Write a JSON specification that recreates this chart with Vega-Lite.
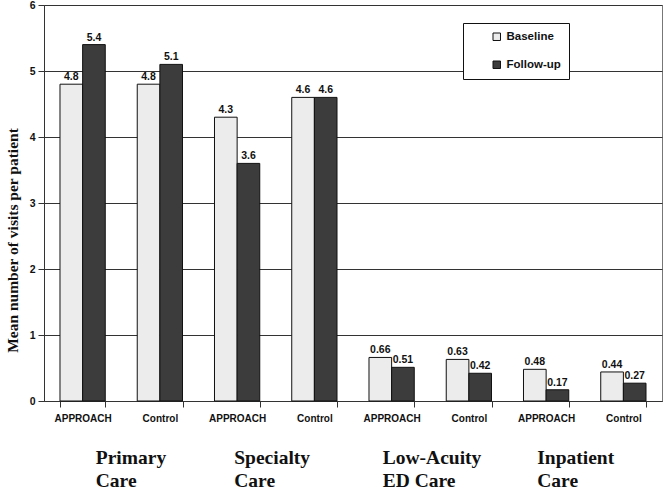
{
  "$schema": "https://vega.github.io/schema/vega-lite/v6.json",
  "width": 618,
  "height": 396,
  "autosize": {"type": "none"},
  "padding": {"left": 44, "top": 5, "right": 4, "bottom": 88},
  "background": "white",
  "config": {
    "view": {"stroke": "#777", "strokeWidth": 1},
    "font": "Liberation Sans"
  },
  "data": {
    "values": [
      {"cat": "Primary Care", "arm": "PC|APPROACH", "series": "Baseline", "value": 4.8},
      {"cat": "Primary Care", "arm": "PC|APPROACH", "series": "Follow-up", "value": 5.4},
      {"cat": "Primary Care", "arm": "PC|Control", "series": "Baseline", "value": 4.8},
      {"cat": "Primary Care", "arm": "PC|Control", "series": "Follow-up", "value": 5.1},
      {"cat": "Specialty Care", "arm": "SC|APPROACH", "series": "Baseline", "value": 4.3},
      {"cat": "Specialty Care", "arm": "SC|APPROACH", "series": "Follow-up", "value": 3.6},
      {"cat": "Specialty Care", "arm": "SC|Control", "series": "Baseline", "value": 4.6},
      {"cat": "Specialty Care", "arm": "SC|Control", "series": "Follow-up", "value": 4.6},
      {"cat": "Low-Acuity ED Care", "arm": "ED|APPROACH", "series": "Baseline", "value": 0.66},
      {"cat": "Low-Acuity ED Care", "arm": "ED|APPROACH", "series": "Follow-up", "value": 0.51},
      {"cat": "Low-Acuity ED Care", "arm": "ED|Control", "series": "Baseline", "value": 0.63},
      {"cat": "Low-Acuity ED Care", "arm": "ED|Control", "series": "Follow-up", "value": 0.42},
      {"cat": "Inpatient Care", "arm": "IP|APPROACH", "series": "Baseline", "value": 0.48},
      {"cat": "Inpatient Care", "arm": "IP|APPROACH", "series": "Follow-up", "value": 0.17},
      {"cat": "Inpatient Care", "arm": "IP|Control", "series": "Baseline", "value": 0.44},
      {"cat": "Inpatient Care", "arm": "IP|Control", "series": "Follow-up", "value": 0.27}
    ]
  },
  "layer": [
    {
      "encoding": {
        "x": {
          "field": "arm", "type": "nominal", "sort": null,
          "scale": {"paddingInner": 0.414, "paddingOuter": 0.207},
          "axis": {
            "title": null,
            "labelExpr": "split(datum.label, '|')[1]",
            "labelAngle": 0,
            "labelFont": "Liberation Sans",
            "labelFontWeight": "bold",
            "labelFontSize": 10,
            "labelColor": "#111",
            "labelPadding": 6,
            "tickBand": "extent",
            "tickSize": 6,
            "tickColor": "#333",
            "domainColor": "#333",
            "grid": false
          }
        },
        "xOffset": {"field": "series", "type": "nominal", "sort": ["Baseline", "Follow-up"], "scale": {"paddingInner": 0, "paddingOuter": 0}},
        "y": {
          "field": "value", "type": "quantitative",
          "scale": {"domain": [0, 6], "nice": false},
          "axis": {
            "title": "Mean number of visits per patient",
            "titleFont": "Liberation Serif",
            "titleFontSize": 15.5,
            "titleFontWeight": "bold",
            "titleColor": "#111",
            "titleX": -32,
            "titleY": 235,
            "titleAngle": 270,
            "titleAlign": "center",
            "titleBaseline": "middle",
            "values": [0, 1, 2, 3, 4, 5, 6],
            "labelOverlap": false,
            "labelFont": "Liberation Sans",
            "labelFontWeight": "bold",
            "labelFontSize": 10.5,
            "labelColor": "#111",
            "labelPadding": 3,
            "tickSize": 6,
            "tickColor": "#333",
            "domainColor": "#333",
            "grid": true,
            "gridColor": "#333",
            "gridOpacity": 1
          }
        }
      },
      "layer": [
        {
          "mark": {"type": "bar", "stroke": "#111", "strokeWidth": 1},
          "encoding": {
            "color": {
              "field": "series", "type": "nominal",
              "scale": {"domain": ["Baseline", "Follow-up"], "range": ["#ececec", "#3c3c3c"]},
              "legend": {
                "title": null,
                "orient": "none",
                "legendX": 419,
                "legendY": 18,
                "direction": "vertical",
                "symbolType": "square",
                "symbolSize": 56,
                "symbolStrokeColor": "#111",
                "symbolStrokeWidth": 1,
                "symbolOffset": 20,
                "labelFont": "Liberation Sans",
                "labelFontWeight": "bold",
                "labelFontSize": 11.5,
                "labelColor": "#111",
                "labelOffset": 4,
                "rowPadding": 15,
                "padding": 8,
                "strokeColor": "#111",
                "fillColor": "white"
              }
            }
          }
        },
        {
          "mark": {"type": "text", "dy": -7, "fontWeight": "bold", "fontSize": 10.5, "font": "Liberation Sans", "color": "#111"},
          "encoding": {"text": {"field": "value", "type": "quantitative"}}
        }
      ]
    },
    {
      "mark": {"type": "text", "text": ""},
      "encoding": {
        "x": {
          "field": "cat", "type": "nominal", "sort": null,
          "scale": {"paddingInner": 0, "paddingOuter": 0},
          "axis": {
            "title": null,
            "orient": "bottom",
            "offset": 47,
            "domain": false,
            "ticks": false,
            "grid": false,
            "labelAngle": 0,
            "labelAlign": "left",
            "labelBaseline": "top",
            "labelOffset": {
              "condition": [
                {"test": "datum.label == 'Primary Care'", "value": -26},
                {"test": "datum.label == 'Specialty Care'", "value": -42}
              ],
              "value": -48
            },
            "labelPadding": 0,
            "labelFont": "Liberation Serif",
            "labelFontWeight": "bold",
            "labelFontSize": 19.5,
            "labelLineHeight": 23,
            "labelColor": "#111",
            "labelExpr": "datum.label == 'Low-Acuity ED Care' ? ['Low-Acuity', 'ED Care'] : split(datum.label, ' ')"
          }
        }
      }
    }
  ],
  "resolve": {"scale": {"x": "independent"}, "axis": {"x": "independent"}}
}
